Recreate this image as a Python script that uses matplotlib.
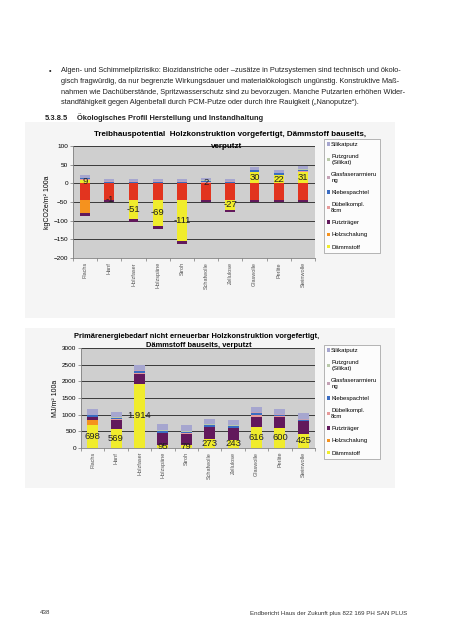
import numpy as np
import matplotlib
matplotlib.use("Agg")
import matplotlib.pyplot as plt
from matplotlib.patches import Rectangle

plt.rcParams['font.family'] = ['Liberation Sans', 'DejaVu Sans']

categories = ['Flachs', 'Hanf', 'Holzfaser', 'Holzspäne', 'Stroh', 'Schafwolle',
              'Zellulose', 'Glaswolle', 'Perlite', 'Steinwolle']

# Treibhauspotential kgCO2e/m² 100a
kons_gwp = [-44, -44, -44, -44, -44, -44, -44, -44, -44, -44]
daemm_gwp = [9, -1, -51, -69, -111, 2, -27, 30, 22, 31]
holzsch_gwp = [-36, 0, 0, 0, 0, 0, 0, 0, 0, 0]
putztr_gwp = [-8, -5, -8, -8, -7, -6, -7, -6, -6, -6]
duebel_gwp = [1.5, 1.5, 1.5, 1.5, 1.5, 1.5, 1.5, 1.5, 1.5, 1.5]
klebe_gwp = [3, 3, 3, 3, 3, 3, 3, 3, 3, 3]
glas_gwp = [1, 1, 1, 1, 1, 1, 1, 1, 1, 1]
pgrund_gwp = [1, 1, 1, 1, 1, 1, 1, 1, 1, 1]
silikat_gwp = [8, 6, 6, 6, 6, 6, 6, 8, 8, 8]

# Primärenergiebedarf nicht erneuerbar MJ/m² 100a
kons_pe = [0, 0, 0, 0, 0, 0, 0, 0, 0, 0]
daemm_pe = [698, 569, 1914, 95, 79, 273, 243, 616, 600, 425]
holzsch_pe = [130, 0, 0, 0, 0, 0, 0, 0, 0, 0]
putztr_pe = [100, 270, 320, 350, 340, 340, 340, 320, 330, 370]
duebel_pe = [10, 15, 15, 10, 10, 15, 15, 40, 20, 15]
klebe_pe = [35, 35, 60, 35, 35, 45, 50, 60, 45, 40]
glas_pe = [15, 20, 30, 20, 20, 20, 20, 30, 20, 20]
pgrund_pe = [10, 10, 10, 10, 10, 10, 10, 10, 10, 10]
silikat_pe = [162, 151, 151, 200, 196, 177, 162, 154, 155, 160]
pe_labels = ['698', '569', '1.914', '95', '79', '273', '243', '616', '600', '425']

names = ['Holzkonstruktion', 'Dämmstoff', 'Holzschalung', 'Putzträger', 'Dübelkompl.\n8cm',
         'Klebespachtel', 'Glasfaserarmieru\nng', 'Putzgrund\n(Silikat)', 'Silikatputz']
colors = ['#e2341f', '#f0ec2c', '#f5921e', '#62195c', '#e79a9a',
          '#3a6cc2', '#c4a2b6', '#b9c9aa', '#a6a6cf']

gwp = [kons_gwp, daemm_gwp, holzsch_gwp, putztr_gwp, duebel_gwp,
       klebe_gwp, glas_gwp, pgrund_gwp, silikat_gwp]
pe = [kons_pe, daemm_pe, holzsch_pe, putztr_pe, duebel_pe,
      klebe_pe, glas_pe, pgrund_pe, silikat_pe]

fig = plt.figure(figsize=(4.52, 6.4), dpi=100)
W, H = 452.0, 640.0


def fbox(x0, y0, x1, y1):
    # page pixels (top-down) -> figure fraction box
    return [x0 / W, 1 - y1 / H, (x1 - x0) / W, (y1 - y0) / H]


def ftext(x, y, s, **kw):
    fig.text(x / W, 1 - y / H, s, **kw)


# chart area backgrounds
for (x0, y0, x1, y1) in [(25, 122, 395, 318), (25, 328, 395, 488)]:
    b = fbox(x0, y0, x1, y1)
    fig.patches.append(Rectangle((b[0], b[1]), b[2], b[3], transform=fig.transFigure,
                                 facecolor='#f5f5f5', edgecolor='none', zorder=-5))

# page text
body = ["Algen- und Schimmelpilzrisiko: Biozidanstriche oder –zusätze in Putzsystemen sind technisch und ökolo-",
        "gisch fragwürdig, da nur begrenzte Wirkungsdauer und materialökologisch ungünstig. Konstruktive Maß-",
        "nahmen wie Dachüberstände, Spritzwasserschutz sind zu bevorzugen. Manche Putzarten erhöhen Wider-",
        "standfähigkeit gegen Algenbefall durch PCM-Putze oder durch ihre Rauigkeit („Nanoputze“)."]
ftext(49, 71, '•', fontsize=5.3, va='center', color='#222222')
for i, line in enumerate(body):
    ftext(61, 71 + i * 10.5, line, fontsize=5.3, va='center', color='#222222')
ftext(45, 118, '5.3.8.5', fontsize=5.4, weight='bold', va='center', color='#222222')
ftext(77, 118, 'Ökologisches Profil Herstellung und Instandhaltung', fontsize=5.4,
      weight='bold', va='center', color='#222222')
ftext(40, 613, '438', fontsize=4.4, va='center', color='#333333')
ftext(407, 613, 'Endbericht Haus der Zukunft plus 822 169 PH SAN PLUS', fontsize=4.4,
      va='center', ha='right', color='#333333')


def draw(ax, series, width, ymin, ymax, step, labels):
    x = np.arange(len(categories))
    pos = np.zeros(len(categories))
    neg = np.zeros(len(categories))
    handles = []
    for k, vals in enumerate(series):
        v = np.array(vals, dtype=float)
        bottom = np.where(v >= 0, pos, neg)
        bars = ax.bar(x, v, width, bottom=bottom, color=colors[k], zorder=3, linewidth=0)
        handles.append(bars)
        pos = pos + np.where(v >= 0, v, 0)
        neg = neg + np.where(v < 0, v, 0)
        if k == 1:
            ax.bar_label(bars, labels=labels, label_type='center', fontsize=6.8,
                         color='#222222', zorder=5)
    ax.set_xlim(-0.5, len(categories) - 0.5)
    ax.set_ylim(ymin, ymax)
    ax.set_yticks(np.arange(ymin, ymax + 1, step))
    ax.set_facecolor('#cfcfcf')
    ax.grid(axis='y', color='#3a3a3a', linewidth=0.7, zorder=1)
    ax.set_xticks(x)
    ax.set_xticklabels(categories, rotation=90, fontsize=4, color='#555555')
    ax.set_xticks(np.arange(-0.5, len(categories)), minor=True)
    ax.tick_params(axis='x', which='major', length=0, pad=3)
    ax.tick_params(axis='x', which='minor', length=2, width=0.5, color='#777777')
    ax.tick_params(axis='y', length=2, width=0.5, labelsize=4.6, pad=1.5, color='#777777')
    for s in ['top', 'right']:
        ax.spines[s].set_visible(False)
    for s in ['left', 'bottom']:
        ax.spines[s].set_color('#808080')
        ax.spines[s].set_linewidth(0.6)
    return handles


def legend(ax, handles, box):
    order = [8, 7, 6, 5, 4, 3, 2, 1]
    leg = fig.legend([handles[i] for i in order], [names[i] for i in order],
                     loc='upper left', bbox_to_anchor=(box[0] / W, 1 - box[1] / H),
                     fontsize=4.3, frameon=True, fancybox=False, handlelength=0.5,
                     handleheight=0.5, handletextpad=0.2, labelspacing=1.2,
                     borderpad=0.5, borderaxespad=0)
    leg.get_frame().set_edgecolor('#808080')
    leg.get_frame().set_linewidth(0.5)


# top chart
ax1 = fig.add_axes(fbox(73, 146, 315, 258))
h1 = draw(ax1, gwp, 0.4, -200, 100, 50, [str(v) for v in daemm_gwp])
ax1.set_ylabel('kgCO2e/m² 100a', fontsize=5, labelpad=2)
ftext(230, 135, 'Treibhauspotential  Holzkonstruktion vorgefertigt, Dämmstoff bauseits,',
      fontsize=5.8, weight='bold', ha='center', va='center')
ftext(227, 146, 'verputzt', fontsize=5.8, weight='bold', ha='center', va='center')
legend(ax1, h1, (324, 139))

# bottom chart
ax2 = fig.add_axes(fbox(81, 348.3, 315, 447.7))
h2 = draw(ax2, pe, 0.47, 0, 3000, 500, pe_labels)
ax2.set_ylabel('MJ/m² 100a', fontsize=5, labelpad=2)
ftext(197, 336, 'Primärenergiebedarf nicht erneuerbar Holzkonstruktion vorgefertigt,',
      fontsize=5.4, weight='bold', ha='center', va='center')
ftext(199, 345.5, 'Dämmstoff bauseits, verputzt', fontsize=5.4, weight='bold',
      ha='center', va='center')
legend(ax2, h2, (324, 345))

fig.savefig('out.png', dpi=100)
